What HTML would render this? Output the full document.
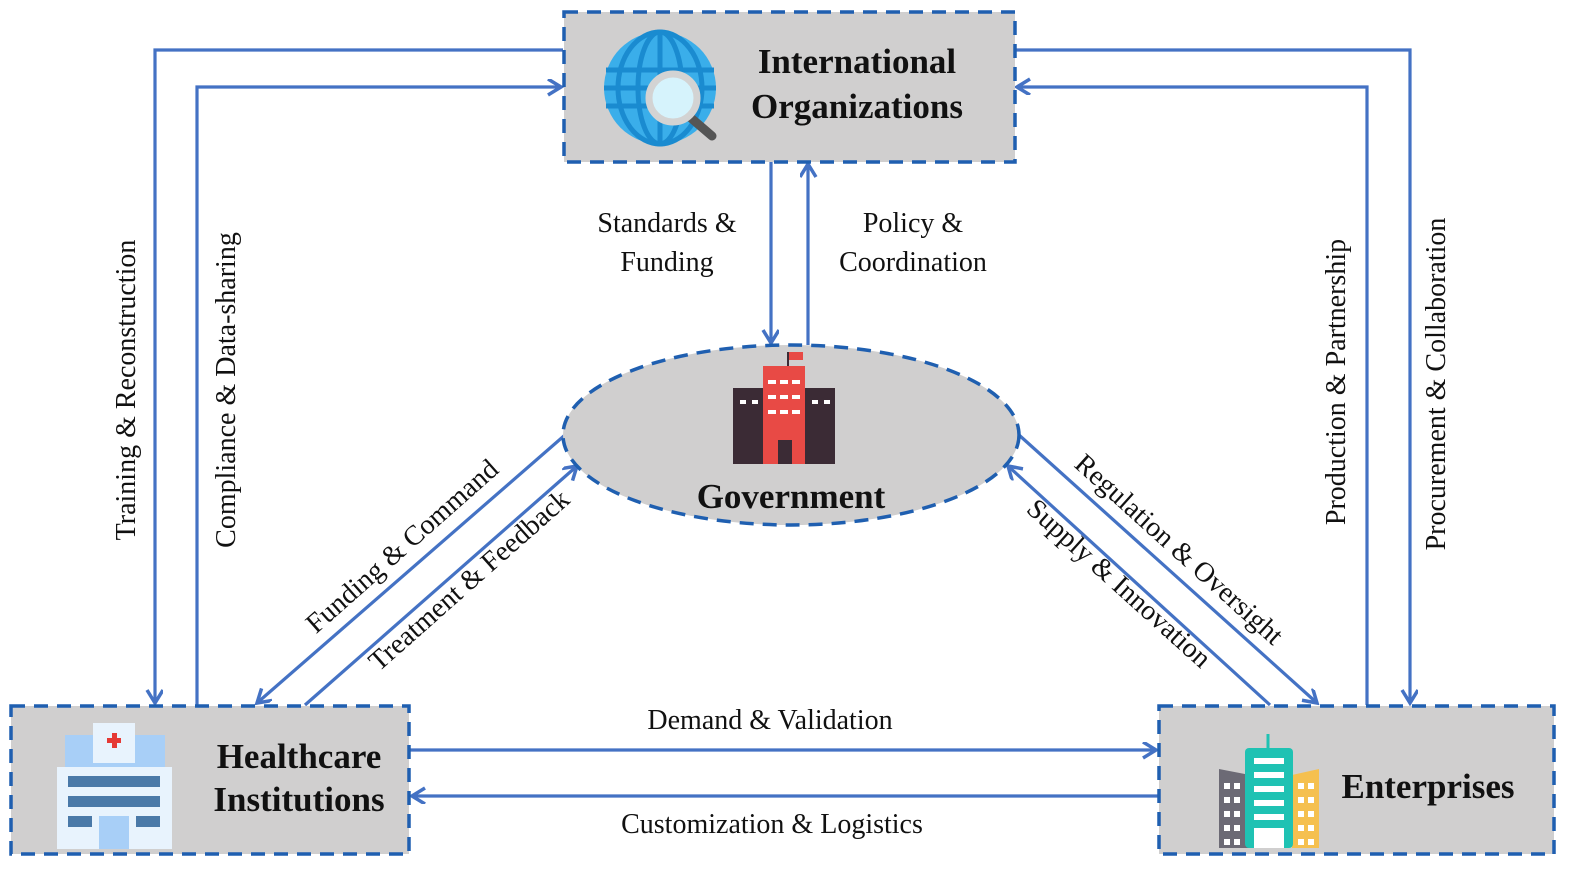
<!DOCTYPE html>
<html><head><meta charset="utf-8"><style>
html,body{margin:0;padding:0;background:#fff}
svg{display:block}
text{font-family:"Liberation Serif","Times New Roman",serif;fill:#111}
.l{font-size:28px}
.b{font-size:35px;font-weight:bold}
</style></head><body>
<svg width="1594" height="881" viewBox="0 0 1594 881">
<defs>
<marker id="a" markerWidth="18" markerHeight="18" refX="15" refY="8" orient="auto" markerUnits="userSpaceOnUse">
<path d="M2,0 L15,8 L2,16" fill="none" stroke="#4472C4" stroke-width="3.5"/>
</marker>
</defs>
<g fill="none" stroke="#4472C4" stroke-width="3.2">
<path d="M563,50 H155 V703" marker-end="url(#a)"/>
<path d="M197,705 V87 H561" marker-end="url(#a)"/>
<path d="M1015,50 H1410 V703" marker-end="url(#a)"/>
<path d="M1367,705 V87 H1017" marker-end="url(#a)"/>
<path d="M771,162 V343" marker-end="url(#a)"/>
<path d="M808,345 V164" marker-end="url(#a)"/>
<path d="M565,435 L257,703" marker-end="url(#a)"/>
<path d="M305,705 L577,466" marker-end="url(#a)"/>
<path d="M1019,435 L1317,703" marker-end="url(#a)"/>
<path d="M1270,705 L1008,466" marker-end="url(#a)"/>
<path d="M410,750 H1156" marker-end="url(#a)"/>
<path d="M1158,796 H412" marker-end="url(#a)"/>
</g>
<g fill="#d0cfcf" stroke="#1f5fb0" stroke-width="3.5" stroke-dasharray="14,9">
<rect x="564" y="12" width="451" height="150"/>
<rect x="11" y="706" width="398" height="148"/>
<rect x="1159" y="706" width="395" height="148"/>
<ellipse cx="791" cy="435" rx="228" ry="90"/>
</g>
<!-- globe -->
<circle cx="660" cy="88" r="56" fill="#3aaeea"/>
<g stroke="#1a8bd0" stroke-width="5" fill="none">
<ellipse cx="660" cy="88" rx="22" ry="56"/><line x1="660" y1="32" x2="660" y2="144"/>
<line x1="606" y1="70" x2="714" y2="70"/><line x1="604" y1="88" x2="716" y2="88"/><line x1="606" y1="106" x2="714" y2="106"/>
<ellipse cx="660" cy="88" rx="42" ry="56"/>
</g>
<line x1="684" y1="112" x2="712" y2="136" stroke="#555" stroke-width="9" stroke-linecap="round"/>
<circle cx="673" cy="98" r="24" fill="#d6f3fc" stroke="#d3d3d3" stroke-width="7"/>
<!-- government -->
<rect x="763" y="366" width="42" height="98" fill="#e84a45"/>
<rect x="733" y="388" width="30" height="76" fill="#3b2b35"/><rect x="805" y="388" width="30" height="76" fill="#3b2b35"/>
<rect x="778" y="440" width="14" height="24" fill="#3b2b35"/>
<line x1="788" y1="352" x2="788" y2="366" stroke="#3b2b35" stroke-width="2"/>
<rect x="789" y="352" width="14" height="8" fill="#e84a45"/>
<g fill="#fff"><rect x="768" y="380" width="8" height="4"/><rect x="780" y="380" width="8" height="4"/><rect x="792" y="380" width="8" height="4"/>
<rect x="768" y="395" width="8" height="4"/><rect x="780" y="395" width="8" height="4"/><rect x="792" y="395" width="8" height="4"/>
<rect x="768" y="410" width="8" height="4"/><rect x="780" y="410" width="8" height="4"/><rect x="792" y="410" width="8" height="4"/>
<rect x="740" y="400" width="6" height="4"/><rect x="752" y="400" width="6" height="4"/><rect x="812" y="400" width="6" height="4"/><rect x="824" y="400" width="6" height="4"/></g>
<!-- hospital -->
<rect x="65" y="735" width="100" height="40" fill="#a8cff7"/>
<rect x="93" y="723" width="42" height="40" fill="#e8f3fd"/>
<rect x="107" y="738" width="14" height="5" fill="#e53935"/><rect x="112" y="733" width="5" height="15" fill="#e53935"/>
<rect x="57" y="767" width="115" height="82" fill="#e8f3fd"/>
<rect x="68" y="776" width="92" height="11" fill="#4a79a8"/><rect x="68" y="796" width="92" height="11" fill="#4a79a8"/>
<rect x="68" y="816" width="24" height="11" fill="#4a79a8"/><rect x="136" y="816" width="24" height="11" fill="#4a79a8"/>
<rect x="99" y="816" width="30" height="33" fill="#a8cff7"/>
<!-- enterprises -->
<path d="M1219,769 L1250,775 V848 H1219 Z" fill="#6c6a75"/>
<path d="M1292,775 L1319,769 V848 H1292 Z" fill="#f5c04f"/>
<rect x="1245" y="748" width="48" height="100" rx="4" fill="#1fc2b3"/>
<line x1="1268" y1="734" x2="1268" y2="748" stroke="#1fc2b3" stroke-width="3"/>
<g fill="#fff"><rect x="1254" y="758" width="30" height="6"/><rect x="1254" y="772" width="30" height="6"/><rect x="1254" y="786" width="30" height="6"/><rect x="1254" y="800" width="30" height="6"/><rect x="1254" y="814" width="30" height="6"/><rect x="1254" y="828" width="30" height="20"/>
<rect x="1224" y="783" width="6" height="6"/><rect x="1234" y="783" width="6" height="6"/><rect x="1224" y="797" width="6" height="6"/><rect x="1234" y="797" width="6" height="6"/><rect x="1224" y="811" width="6" height="6"/><rect x="1234" y="811" width="6" height="6"/><rect x="1224" y="825" width="6" height="6"/><rect x="1234" y="825" width="6" height="6"/><rect x="1224" y="839" width="6" height="6"/><rect x="1234" y="839" width="6" height="6"/>
<rect x="1298" y="783" width="6" height="6"/><rect x="1308" y="783" width="6" height="6"/><rect x="1298" y="797" width="6" height="6"/><rect x="1308" y="797" width="6" height="6"/><rect x="1298" y="811" width="6" height="6"/><rect x="1308" y="811" width="6" height="6"/><rect x="1298" y="825" width="6" height="6"/><rect x="1308" y="825" width="6" height="6"/><rect x="1298" y="839" width="6" height="6"/><rect x="1308" y="839" width="6" height="6"/></g>
<!-- box labels -->
<text class="b" x="857" y="73" text-anchor="middle">International</text>
<text class="b" x="857" y="118" text-anchor="middle">Organizations</text>
<text class="b" x="791" y="508" text-anchor="middle">Government</text>
<text class="b" x="299" y="768" text-anchor="middle">Healthcare</text>
<text class="b" x="299" y="811" text-anchor="middle">Institutions</text>
<text class="b" x="1428" y="798" text-anchor="middle">Enterprises</text>
<!-- connector labels -->
<text class="l" x="667" y="232" text-anchor="middle">Standards &amp;</text>
<text class="l" x="667" y="271" text-anchor="middle">Funding</text>
<text class="l" x="913" y="232" text-anchor="middle">Policy &amp;</text>
<text class="l" x="913" y="271" text-anchor="middle">Coordination</text>
<text class="l" x="770" y="729" text-anchor="middle">Demand &amp; Validation</text>
<text class="l" x="772" y="833" text-anchor="middle">Customization &amp; Logistics</text>
<text class="l" transform="translate(135,390) rotate(-90)" text-anchor="middle">Training &amp; Reconstruction</text>
<text class="l" transform="translate(235,390) rotate(-90)" text-anchor="middle">Compliance &amp; Data-sharing</text>
<text class="l" transform="translate(1345,382) rotate(-90)" text-anchor="middle">Production &amp; Partnership</text>
<text class="l" transform="translate(1445,384) rotate(-90)" text-anchor="middle">Procurement &amp; Collaboration</text>
<text class="l" transform="translate(408,553) rotate(-41.5)" text-anchor="middle">Funding &amp; Command</text>
<text class="l" transform="translate(475,587) rotate(-41.5)" text-anchor="middle">Treatment &amp; Feedback</text>
<text class="l" transform="translate(1173,556) rotate(42)" text-anchor="middle">Regulation &amp; Oversight</text>
<text class="l" transform="translate(1113,590) rotate(42)" text-anchor="middle">Supply &amp; Innovation</text>
</svg>
</body></html>
